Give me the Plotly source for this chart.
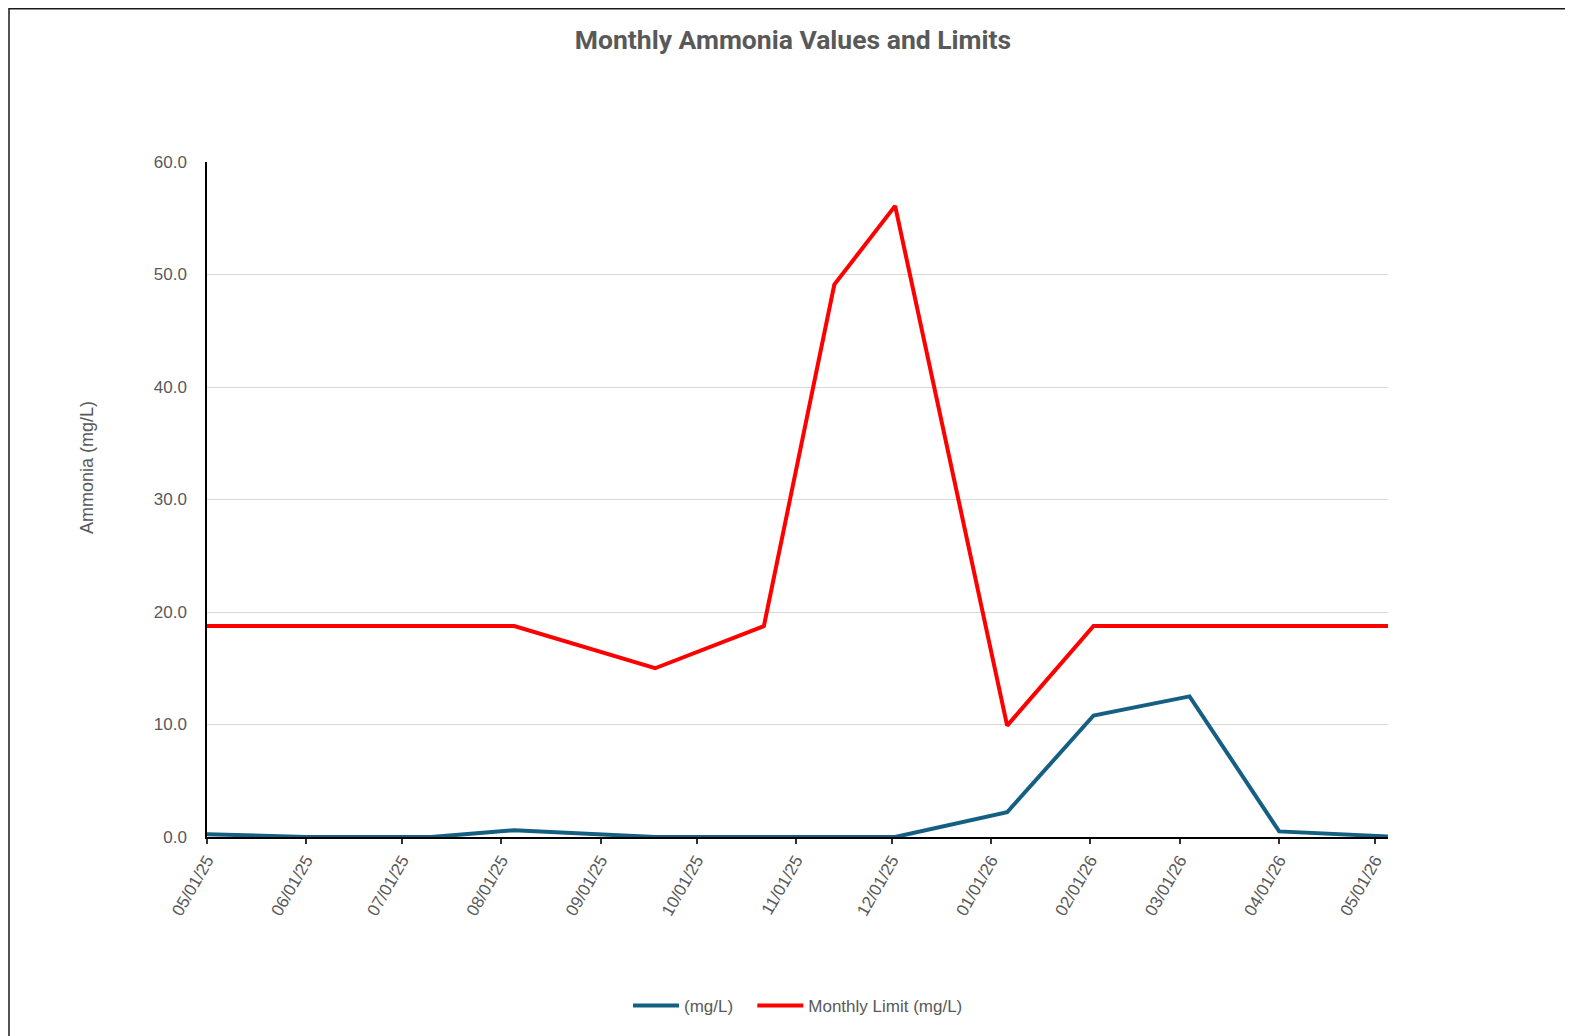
import plotly.graph_objects as go

dates = ["2025-05-01", "2025-06-01", "2025-07-10", "2025-08-05", "2025-09-18",
         "2025-10-22", "2025-11-13", "2025-12-02", "2026-01-06", "2026-02-02",
         "2026-03-04", "2026-04-01", "2026-05-05"]
ammonia = [0.25, 0.0, 0.0, 0.6, 0.0, 0.0, 0.0, 0.0, 2.2, 10.8, 12.5, 0.5, 0.05]
monthly_limit = [18.75, 18.75, 18.75, 18.75, 15.0, 18.75, 49.1, 56.1, 9.9,
                 18.75, 18.75, 18.75, 18.75]
tick_dates = ["2025-05-01", "2025-06-01", "2025-07-01", "2025-08-01", "2025-09-01",
              "2025-10-01", "2025-11-01", "2025-12-01", "2026-01-01", "2026-02-01",
              "2026-03-01", "2026-04-01", "2026-05-01"]
tick_text = ["05/01/25", "06/01/25", "07/01/25", "08/01/25", "09/01/25", "10/01/25",
             "11/01/25", "12/01/25", "01/01/26", "02/01/26", "03/01/26", "04/01/26",
             "05/01/26"]

W, H = 1573, 1036
OFF = 8  # page body margin
L, R, T, B = 207 - OFF, 1388 - OFF, 162 - OFF, 837 - OFF
pw, ph = R - L, B - T

def px(x):
    return (x - OFF - L) / pw

def py(y):
    return (B - (y - OFF)) / ph

gray = "#595959"
font_main = "Liberation Sans, Arial, sans-serif"

fig = go.Figure()
fig.add_trace(go.Scatter(x=dates, y=ammonia, mode="lines", name="(mg/L)&nbsp;&nbsp;&nbsp;",
                         line=dict(color="#156082", width=4)))
fig.add_trace(go.Scatter(x=dates, y=monthly_limit, mode="lines", name="Monthly Limit (mg/L)",
                         line=dict(color="#FF0000", width=4)))

fig.update_layout(
    width=W, height=H,
    margin=dict(l=L, r=W - R, t=T, b=H - B),
    paper_bgcolor="white", plot_bgcolor="white",
    font=dict(family=font_main, color=gray, size=16),
    title=dict(text="<b>Monthly Ammonia Values and Limits</b>",
               x=px(793), xref="paper", xanchor="center",
               y=1 - (40 - OFF) / H, yref="container", yanchor="middle",
               font=dict(family="Liberation Sans Narrow, Roboto, sans-serif", size=26.5, color=gray)),
    showlegend=True,
    legend=dict(orientation="h", x=px(798), xanchor="center", y=py(1006), yanchor="middle",
                font=dict(size=17, color=gray), itemwidth=46, tracegroupgap=0,
                bgcolor="rgba(0,0,0,0)"),
    shapes=[dict(type="rect", xref="paper", yref="paper",
                 x0=px(9), x1=px(1567), y0=py(1050), y1=py(OFF + 0.8),
                 line=dict(color="#1a1a1a", width=1.5), fillcolor="rgba(0,0,0,0)", layer="below")],
    annotations=[dict(text="Ammonia (mg/L)", xref="paper", yref="paper",
                      x=px(87), y=py(468), xanchor="center", yanchor="middle",
                      textangle=-90, showarrow=False, font=dict(size=18, color=gray))],
)

fig.update_xaxes(
    type="date", range=["2025-05-01", "2026-05-05"],
    tickvals=tick_dates, ticktext=tick_text, tickangle=-60,
    ticks="outside", ticklen=5, tickcolor="#333333", tickwidth=1.5,
    showline=True, linecolor="#000000", linewidth=1.5,
    showgrid=False, zeroline=False, tickfont=dict(size=17, color=gray),
)
fig.update_yaxes(
    range=[0, 60], dtick=10, tickformat=".1f",
    showgrid=True, gridcolor="#d9d9d9", gridwidth=1,
    showline=True, linecolor="#000000", linewidth=1.5,
    zeroline=False, ticks="", ticklabelstandoff=15,
    tickfont=dict(size=17, color=gray),
)

fig.write_html("out.html")
